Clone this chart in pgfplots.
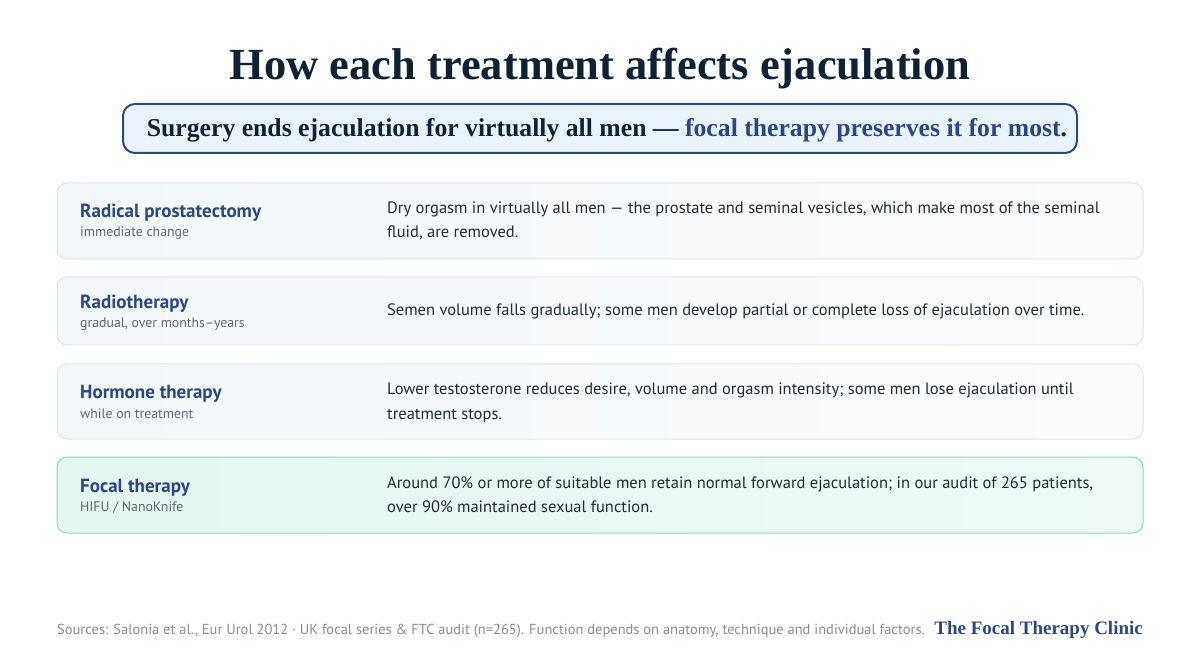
\documentclass[border=0pt]{standalone}
\usepackage{pgfplots}
\pgfplotsset{compat=1.18}
\usepackage{fontspec}
\setmainfont{PT Sans}
\newfontfamily\serifbold{Liberation Serif}[Ligatures=TeX]
\usetikzlibrary{calc}

\definecolor{titleInk}{HTML}{0F2233}
\definecolor{navy}{HTML}{2B4685}
\definecolor{bodyInk}{HTML}{1F2A33}
\definecolor{subGrey}{HTML}{5F6770}
\definecolor{footGrey}{HTML}{878D95}
\definecolor{calloutEdge}{HTML}{2B4A80}
\definecolor{calloutFill}{HTML}{EAF3FB}
\definecolor{rowEdge}{HTML}{E0E6EB}
\definecolor{rowFillL}{HTML}{F3F7FA}
\definecolor{rowFillR}{HTML}{FBFCFD}
\definecolor{focalEdge}{HTML}{8AD9BD}
\definecolor{focalFillL}{HTML}{E4F6EF}
\definecolor{focalFillR}{HTML}{EEF9F5}

\newcommand{\fs}[1]{\fontsize{#1}{#1}\selectfont}

\begin{document}
\begin{tikzpicture}[
	lab/.style = {anchor=base west, inner sep=0pt, font=\fs{19}\bfseries, text=navy},
	sub/.style = {anchor=base west, inner sep=0pt, font=\fs{13.8}, text=subGrey},
	desc/.style = {anchor=base west, inner sep=0pt, font=\fs{16.5}, text=bodyInk},
	rowbox/.style = {draw=rowEdge, line width=1pt, rounded corners=10pt, left color=rowFillL, right color=rowFillR},
]
\path[use as bounding box, fill=white] (0,0) rectangle (1200pt,660pt);

\begin{axis}[
	at={(0,0)}, anchor=south west,
	width=1200pt, height=660pt, scale only axis,
	xmin=0, xmax=1200, ymin=0, ymax=660,
	y dir=reverse,
	axis lines=none, clip=false,
	xtick=\empty, ytick=\empty,
]
% title and callout
\node[anchor=base, inner sep=0pt, font=\serifbold\fs{44.5}\bfseries, text=titleInk]
	at (axis cs:600,80) {How each treatment affects ejaculation};
\draw[draw=calloutEdge, line width=2pt, fill=calloutFill, rounded corners=12pt]
	(axis cs:123,104) rectangle (axis cs:1077,153);
\node[anchor=base, inner sep=0pt, font=\serifbold\fs{25.7}\bfseries, text=titleInk]
	at (axis cs:607,137) {Surgery ends ejaculation for virtually all men — \textcolor{navy}{focal therapy preserves it for most}.};

% rows
\draw[rowbox] (axis cs:57,183) rectangle (axis cs:1143,259);
\draw[rowbox] (axis cs:57,277) rectangle (axis cs:1143,345);
\draw[rowbox] (axis cs:57,364) rectangle (axis cs:1143,439);
\draw[draw=focalEdge, line width=1pt, rounded corners=10pt, left color=focalFillL, right color=focalFillR]
	(axis cs:57,457) rectangle (axis cs:1143,533);

\node[lab] at (axis cs:80,218) {Radical prostatectomy};
\node[sub] at (axis cs:80,237) {immediate change};
\node[desc] at (axis cs:387,214) {Dry orgasm in virtually all men — the prostate and seminal vesicles, which make most of the seminal};
\node[desc] at (axis cs:387,238) {fluid, are removed.};

\node[lab] at (axis cs:80,309) {Radiotherapy};
\node[sub] at (axis cs:80,328) {gradual, over months–years};
\node[desc] at (axis cs:387,316) {Semen volume falls gradually; some men develop partial or complete loss of ejaculation over time.};

\node[lab] at (axis cs:80,399) {Hormone therapy};
\node[sub] at (axis cs:80,418) {while on treatment};
\node[desc] at (axis cs:387,395) {Lower testosterone reduces desire, volume and orgasm intensity; some men lose ejaculation until};
\node[desc] at (axis cs:387,419) {treatment stops.};

\node[lab] at (axis cs:80,492) {Focal therapy};
\node[sub] at (axis cs:80,511) {HIFU / NanoKnife};
\node[desc] at (axis cs:387,488) {Around 70\% or more of suitable men retain normal forward ejaculation; in our audit of 265 patients,};
\node[desc] at (axis cs:387,512) {over 90\% maintained sexual function.};

% footer
\node[anchor=base west, inner sep=0pt, font=\fs{14.5}, text=footGrey]
	at (axis cs:57,634) {Sources: Salonia et al., Eur Urol 2012 · UK focal series \& FTC audit (n=265). Function depends on anatomy, technique and individual factors.};
\node[anchor=base east, inner sep=0pt, font=\serifbold\fs{19}\bfseries, text=navy]
	at (axis cs:1143,634) {The Focal Therapy Clinic};
\end{axis}
\end{tikzpicture}
\end{document}
